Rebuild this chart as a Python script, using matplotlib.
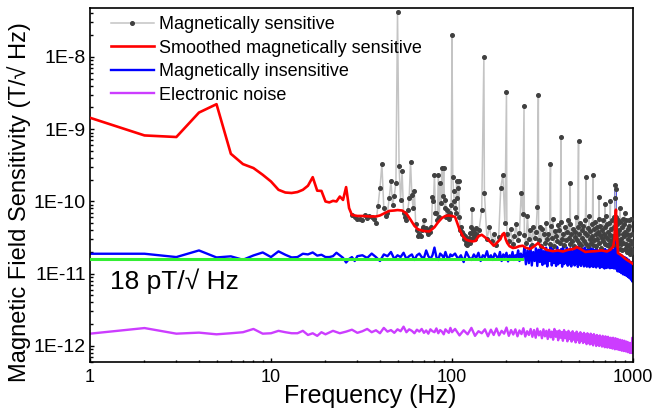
import numpy as np
import matplotlib.pyplot as plt
from matplotlib.ticker import FixedLocator, FuncFormatter, LogLocator, NullFormatter

plt.rcParams['font.family'] = ['Liberation Sans', 'DejaVu Sans']

# all values in pT/sqrt(Hz)
PT = 1e-12

# Magnetically sensitive (raw), 1 Hz steps from 28 Hz
sens_mid_start = 28
sens_mid = [
    65, 60, 58, 57, 56, 65, 59, 62, 60, 58,          # 28-37
    51, 87, 153, 329, 81, 62, 70, 111, 189, 90,      # 38-47
    120, 183, 42500, 305, 106, 260, 70, 60, 56, 75,  # 48-57
    110, 357, 123, 80, 138, 48, 40, 33, 36, 33,      # 58-67
    40, 45, 55, 42, 43, 38.5, 36, 40, 38, 45,        # 68-77
    117, 100, 234, 70, 69, 55, 234, 60, 180, 95,     # 78-87
    290, 120, 290, 80, 106, 60, 75, 65, 58, 62,      # 88-97
    70, 90, 20400, 220, 138, 100, 80, 70, 189, 110,  # 98-107
    153, 193, 60, 40.6, 45, 38, 35, 36, 33, 30,      # 108-117
    32.8, 28, 26, 25, 30, 28, 31, 27, 36.6, 30,      # 118-127
    45, 78.5, 40, 35, 32, 38, 30, 43, 36, 34.6,      # 128-137
]
# 5 Hz steps from 141 Hz (each row covers 50 Hz)
sens_high_start, sens_high_step = 141, 5
sens_high = [
    40, 77, 133, 30, 45, 28, 36, 25, 32, 156,
    234, 50, 36, 28, 42, 26, 33, 48, 29, 37,
    133, 68, 34, 27, 62, 30, 40, 25, 44, 31,
    38, 84, 29, 45, 24, 41, 35, 27, 50, 30,
    36, 26, 46, 31, 58, 24, 39, 33, 28, 47,
    40, 27, 52, 30, 36, 25, 44, 29, 38, 55,
    31, 26, 48, 35, 28, 42, 24, 38, 32, 60,
    29, 45, 27, 36, 50, 25, 40, 31, 46, 28,
    37, 56, 26, 34, 43, 24, 62, 30, 39, 27,
    48, 33, 25, 41, 29, 52, 35, 24, 44, 30,
    38, 58, 27, 34, 46, 23, 40, 31, 55, 28,
    36, 44, 26, 62, 32, 25, 48, 30, 38, 24,
    51, 34, 27, 42, 29, 56, 33, 25, 45, 60,
    45, 110, 150, 60, 30, 48, 25, 36, 55, 28,
    40, 22, 52, 30, 26, 45, 21, 36, 58, 27,
    33, 48, 22, 38, 26, 55, 24, 35, 20, 42,
    30, 21, 46, 25, 34, 19, 58, 28, 22, 36,
    20, 26,
]
# line harmonics
sens_peak_freq = [150, 200, 250, 300, 350, 400, 450, 500, 550, 600, 650, 700, 750, 800, 850, 900, 950]
sens_peak_vals = [9900, 3300, 2090, 3000, 325, 770, 180, 690, 217, 230, 117, 93, 102, 170, 80, 70, 55]

# Smoothed magnetically sensitive
smooth_freq = [
    1, 2, 3, 4, 5, 6, 7, 8, 9, 10, 11, 12, 13, 14, 15, 16, 17, 18, 19, 20,
    21, 22, 23, 24, 25, 26, 27, 28, 29, 30, 32, 35, 38, 40, 42, 45, 48, 50, 53, 56,
    59, 62, 65, 70, 75, 80, 84, 88, 92, 96, 100, 104, 107, 110, 115, 120, 125, 130, 135, 140,
    146, 152, 158, 164, 170, 175, 180, 185, 190, 194, 198, 202, 208, 217, 225, 235, 246, 255, 270, 285,
    299, 310, 333, 360, 385, 410, 440, 470, 490, 520, 545, 574, 620, 670, 718, 750, 778, 790, 797, 805,
    812, 826, 850, 877, 910, 955, 1000,
]
smooth_vals = [
    1440, 820, 780, 1700, 2220, 457, 329, 290, 234, 189, 145, 133, 131, 135, 145, 165, 217, 141, 140, 100,
    97, 102, 100, 117, 105, 158, 81, 65, 64, 63, 63, 62, 62, 64, 68, 74, 75, 76, 75, 68,
    56, 46, 41, 39, 38.5, 44, 52, 59, 63, 64, 63, 61, 50, 41, 33, 29.5, 28.5, 28, 28.5, 33,
    34.6, 32, 29.5, 27, 24.4, 26, 28, 30, 35, 36.6, 30, 26.6, 24, 22.7, 23, 24, 24.4, 23, 22, 24,
    26.6, 24, 21.4, 20.5, 21, 20.3, 21.5, 22, 23.4, 21.5, 20, 20.3, 20.5, 21, 20.3, 21.5, 23.9, 30, 55, 77,
    40, 19.3, 18.5, 17.4, 16, 14.8, 13.7,
]

# Magnetically insensitive
insens_a = [18.9, 18.9, 17, 21, 16.8, 17.4, 15.6, 17.9, 19.7, 17,
            20.4, 18.3, 16.8, 17, 18.9, 18.5, 19.7, 17.8, 18.3, 17,
            17, 17.5, 19.5, 18, 16.6, 14.3, 16, 17, 15, 17.5]          # 1-30, 1 Hz
insens_b = [18, 16.5, 19, 17, 15, 18.5, 17.5, 20, 16, 18,
            17, 19.5, 16, 17.5, 18.5, 15.5, 18, 19, 17, 16.5,
            21, 17.5, 16, 18, 23, 17, 15.5, 19, 18, 16.5,
            20, 17, 16, 18.5, 17.5]                                    # 32-100, 2 Hz
insens_c = [19, 16, 18, 14.5, 20, 17, 15.5, 18.5, 16.5, 19.5,
            15, 18, 17, 20.5, 16, 18, 15.5, 19, 17.5, 16,
            20, 15, 18.5, 17, 19.5, 14.8, 18, 16.5, 20, 15.5,
            18, 17, 21, 15, 19, 16.5, 18]                              # 104-248, 4 Hz
insens_d = [
    23, 13.5, 21, 14, 24.5, 13, 20, 15, 22.5, 12.8,
    21.5, 14.5, 25, 13.2, 20.5, 13.8, 23, 12.6, 21, 15,
    24, 13, 22, 14, 20, 12.8, 23.5, 13.5, 21, 14.2,
    22, 12.5, 24.5, 13.6, 20.5, 14, 23, 12.9, 21.5, 13.4,
    22.5, 12.6, 20, 14.5, 23.5, 13, 21, 13.8, 22, 12.4,
    24, 13.5, 20.5, 12.8, 22.5, 14, 21, 12.6, 23, 13.2,
    20, 12.5, 22, 13.8, 21.5, 12.3, 23, 13, 20.5, 12.6,
    22, 12.4, 20.5, 13.5, 21.5, 12.2, 23, 12.8, 20, 13.2,
    21, 12, 22.5, 13, 20, 12.3, 21.5, 12.7, 20.5, 11.8,
    22, 12.5, 20, 12, 21, 13, 19.5, 12.2, 21.5, 11.9,
    20.5, 12.4, 22, 12, 20, 12.8, 21, 11.8, 24, 30,
    50, 18, 11.5, 19, 10.8, 18.5, 11.2, 17.5, 10.6, 18,
    10.8, 17, 10.2, 18, 10.5, 16.5, 9.8, 17.2, 10.2, 16,
    9.6, 16.8, 9.9, 15.5, 9.3, 16.2, 9.5, 15, 9, 15.6,
    8.8, 14.8, 9, 14, 8.4, 14.5, 8.2, 13.5, 7.8, 13,
]                                                                      # 251-996, 5 Hz
insens_peak_freq = [800]
insens_peak_vals = [138]

# Electronic noise
noise_a = [1.48, 1.77, 1.48, 1.53, 1.45, 1.5, 1.55, 1.72, 1.48, 1.5,
           1.62, 1.55, 1.5, 1.5, 1.62, 1.42, 1.5, 1.38, 1.55, 1.45]     # 1-20, 1 Hz
noise_b = [1.62, 1.5, 1.58, 1.68, 1.52, 1.6, 1.72, 1.55, 1.65, 1.5,
           1.78, 1.58, 1.66, 1.52, 1.7, 1.6, 1.85, 1.55, 1.7, 1.62,
           1.5, 1.68, 1.58, 1.72, 1.52, 1.64, 1.48, 1.7, 1.6, 1.55,
           1.75, 1.5, 1.66, 1.58, 1.45, 1.7, 1.6, 1.52, 1.78, 1.55]    # 22-100, 2 Hz
noise_c = [
    1.72, 1.4, 1.65, 1.45, 1.78, 1.38, 1.6, 1.5, 1.7, 1.36,
    1.68, 1.42, 1.75, 1.4, 1.62, 1.48, 1.8, 1.38, 1.66, 1.44,
    1.7, 1.36, 1.64, 1.46, 1.76, 1.35, 1.6, 1.42, 1.72, 1.34,
    1.66, 1.3, 1.74, 1.4, 1.6, 1.28, 1.7, 1.36, 1.62, 1.25,
    1.68, 1.32, 1.58, 1.22, 1.72, 1.34, 1.6, 1.2, 1.64, 1.3,
    1.56, 1.18, 1.66, 1.28, 1.55, 1.16, 1.62, 1.25, 1.52, 1.15,
    1.6, 1.22, 1.5, 1.12, 1.58, 1.2, 1.48, 1.1, 1.55, 1.18,
    1.46, 1.1, 1.52, 1.14, 1.44, 1.06, 1.5, 1.12, 1.42, 1.05,
    1.48, 1.08, 1.4, 1.02, 1.46, 1.1, 1.38, 1.0, 1.42, 1.04,
    1.34, 1.0, 1.4, 1.05, 1.32, 0.98, 1.38, 1.02, 1.3, 0.96,
    1.36, 1.0, 1.28, 0.95, 1.34, 0.98, 1.26, 0.94, 1.3, 0.96,
    1.24, 0.92, 1.3, 0.95, 1.22, 0.9, 1.28, 0.93, 1.2, 0.9,
    1.25, 0.9, 1.18, 0.88, 1.22, 0.9, 1.15, 0.86, 1.2, 0.88,
    1.13, 0.85, 1.18, 0.87, 1.1, 0.84, 1.15, 0.85, 1.08, 0.82,
    1.12, 0.84, 1.06, 0.8, 1.1, 0.82, 1.04, 0.8, 1.3, 0.82,
]                                                                      # 104-998, 6 Hz

# 18 pT reference line
ref_freq = [1, 245]
ref_vals = [16, 16]


def grid(start, step, vals):
    return start + step * np.arange(len(vals))


def merge(freqs, vals):
    f = np.concatenate(freqs).astype(float)
    v = np.concatenate(vals).astype(float)
    order = np.argsort(f, kind='stable')
    return f[order], v[order] * PT


f_sens, v_sens = merge([grid(sens_mid_start, 1, sens_mid), grid(sens_high_start, sens_high_step, sens_high), sens_peak_freq],
                       [sens_mid, sens_high, sens_peak_vals])
f_ins, v_ins = merge([grid(1, 1, insens_a), grid(32, 2, insens_b), grid(104, 4, insens_c), grid(251, 5, insens_d), insens_peak_freq],
                     [insens_a, insens_b, insens_c, insens_d, insens_peak_vals])
f_noise, v_noise = merge([grid(1, 1, noise_a), grid(22, 2, noise_b), grid(104, 6, noise_c)],
                         [noise_a, noise_b, noise_c])

fig = plt.figure(figsize=(6.55, 4.09), dpi=100)
ax = fig.add_axes([90 / 655, 1 - 362 / 409, 543 / 655, 354 / 409])

l_sens, = ax.plot(f_sens, v_sens, color='#c4c4c4', lw=1.1, marker='o', ms=2.6,
                  mfc='#404040', mec='#404040', zorder=3, label='Magnetically sensitive')
l_smooth, = ax.plot(smooth_freq, np.array(smooth_vals) * PT, color='#ff0000', lw=1.9, zorder=4,
                    label='Smoothed magnetically sensitive')
l_ins, = ax.plot(f_ins, v_ins, color='#0000ff', lw=1.7, zorder=2, label='Magnetically insensitive')
l_noise, = ax.plot(f_noise, v_noise, color='#cc3dff', lw=1.7, zorder=2, label='Electronic noise')
ax.plot(ref_freq, np.array(ref_vals) * PT, color='#33ee33', lw=2.2, zorder=5)

ax.set_xscale('log')
ax.set_yscale('log')
ax.set_xlim(1, 1000)
ax.set_ylim(6.0e-13, 4.76e-8)

ax.xaxis.set_major_locator(FixedLocator([1, 10, 100, 1000]))
ax.xaxis.set_major_formatter(FuncFormatter(lambda v, p: '%d' % round(v)))
ax.yaxis.set_major_locator(FixedLocator([1e-12, 1e-11, 1e-10, 1e-9, 1e-8]))
ax.yaxis.set_major_formatter(FuncFormatter(lambda v, p: '1E%d' % round(np.log10(v))))
for axis in (ax.xaxis, ax.yaxis):
    axis.set_minor_locator(LogLocator(base=10, subs=np.arange(2, 10), numticks=20))
    axis.set_minor_formatter(NullFormatter())

ax.tick_params(which='both', direction='in', top=False, right=False, width=1)
ax.tick_params(which='major', length=3.2)
ax.tick_params(which='minor', length=1.8)
ax.tick_params(axis='x', pad=5, labelsize=13)
ax.tick_params(axis='y', pad=3, labelsize=14)
for s in ax.spines.values():
    s.set_linewidth(1.2)

ax.set_xlabel('Frequency (Hz)', fontsize=18)
ax.set_ylabel('Magnetic Field Sensitivity (T/\u221a Hz)', fontsize=17)
ax.xaxis.set_label_coords(0.516, -0.062)
ax.yaxis.set_label_coords(-0.109, 0.452)

ax.text(0.037, 0.227, '18 pT/\u221a Hz', transform=ax.transAxes, fontsize=19, va='center', ha='left')

ax.legend(handles=[l_sens, l_smooth, l_ins, l_noise], loc='upper left', bbox_to_anchor=(0.023, 1.0),
          frameon=False, fontsize=13, borderaxespad=0, borderpad=0.45, labelspacing=0.36,
          handlelength=2.4, handletextpad=0.3)

fig.savefig('out.png', dpi=100)
